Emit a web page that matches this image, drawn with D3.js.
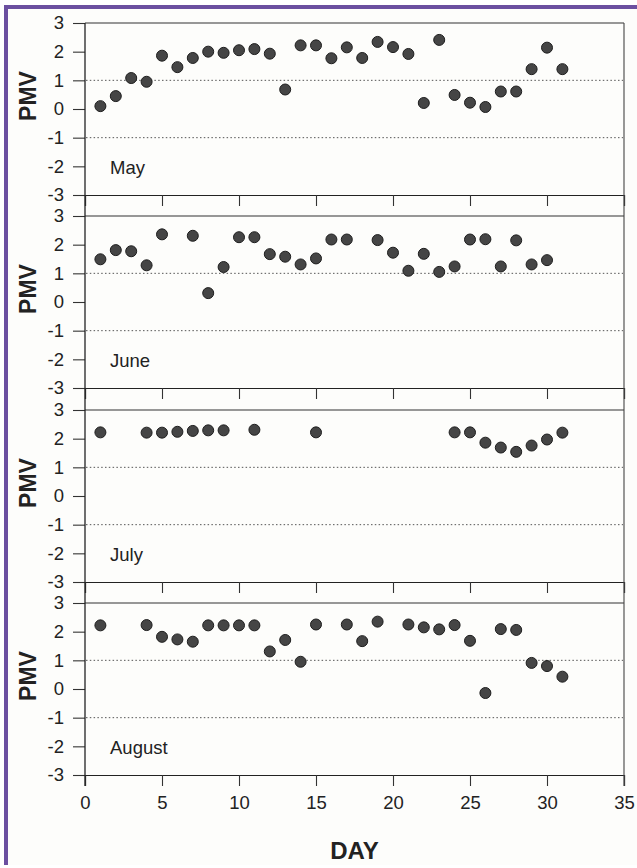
<!DOCTYPE html>
<html>
<head>
<meta charset="utf-8">
<script src="https://cdn.jsdelivr.net/npm/d3@7"></script>
<style>
  html, body { margin: 0; padding: 0; background: #ffffff; }
  svg { display: block; }
  text { font-family: "Liberation Sans", Arial, sans-serif; fill: #222; }
</style>
</head>
<body>
<svg id="chart" width="637" height="868"></svg>
<script>
// ---- data ----
const months = ["May", "June", "July", "August"];
const yTicks = [-3, -2, -1, 0, 1, 2, 3];
const xTicks = [0, 5, 10, 15, 20, 25, 30, 35];
const refLines = [1, -1];

const mayDays = [1,2,3,4,5,6,7,8,9,10,11,12,13,14,15,16,17,18,19,20,21,22,23,24,25,26,27,28,29,30,31];
const mayPMV  = [0.10,0.45,1.08,0.95,1.86,1.46,1.78,2.00,1.96,2.05,2.09,1.93,0.68,2.22,2.22,1.77,2.15,1.78,2.34,2.16,1.92,0.21,2.41,0.49,0.22,0.07,0.61,0.61,1.39,2.14,1.39];

const juneDays = [1,2,3,4,5,7,8,9,10,11,12,13,14,15,16,17,19,20,21,22,23,24,25,26,27,28,29,30];
const junePMV  = [1.49,1.81,1.77,1.28,2.36,2.31,0.31,1.22,2.26,2.26,1.67,1.58,1.31,1.52,2.18,2.18,2.16,1.72,1.09,1.68,1.05,1.24,2.18,2.19,1.24,2.15,1.31,1.46];

const julyDays = [1,4,5,6,7,8,9,11,15,24,25,26,27,28,29,30,31];
const julyPMV  = [2.22,2.21,2.21,2.24,2.27,2.29,2.29,2.31,2.22,2.22,2.22,1.86,1.69,1.54,1.76,1.97,2.21];

const augDays = [1,4,5,6,7,8,9,10,11,12,13,14,15,17,18,19,21,22,23,24,25,26,27,28,29,30,31];
const augPMV  = [2.22,2.23,1.82,1.73,1.65,2.22,2.22,2.22,2.22,1.31,1.71,0.95,2.25,2.25,1.67,2.35,2.25,2.15,2.08,2.23,1.68,-0.14,2.09,2.06,0.91,0.80,0.43];

const series = [
  {name: months[0], days: mayDays, vals: mayPMV},
  {name: months[1], days: juneDays, vals: junePMV},
  {name: months[2], days: julyDays, vals: julyPMV},
  {name: months[3], days: augDays, vals: augPMV}
];

// ---- layout ----
const svg = d3.select("#chart");
const left = 85, right = 624;
const panelTops = [23, 216, 410, 603];
const panelH = 172;
const x = d3.scaleLinear().domain([0, 35]).range([left, right]);
const fmt = d => String(d);   // plain hyphen-minus like the reference

// page border (purple)
svg.append("rect").attr("x", 4).attr("y", 5).attr("width", 640).attr("height", 4).attr("fill", "#6b4fa0");
svg.append("rect").attr("x", 4).attr("y", 5).attr("width", 4).attr("height", 860).attr("fill", "#6b4fa0");
svg.append("rect").attr("x", 8).attr("y", 9).attr("width", 632).attr("height", 856).attr("fill", "#fdfdfb");

series.forEach((s, i) => {
  const top = panelTops[i];
  const y = d3.scaleLinear().domain([-3, 3]).range([top + panelH, top]);
  const g = svg.append("g");

  // y axis
  const ya = g.append("g").attr("transform", `translate(${left},0)`)
    .call(d3.axisLeft(y).tickValues(yTicks).tickSize(12).tickPadding(9).tickFormat(fmt));
  ya.select(".domain").remove();
  ya.selectAll("line").attr("stroke", "#333").attr("stroke-width", 1.1);
  ya.selectAll("text").attr("font-size", 18.5).attr("fill", "#222")
    .style("font-family", '"Liberation Sans", Arial, sans-serif');

  // x axis at bottom of each panel
  const xa = g.append("g").attr("transform", `translate(0,${top + panelH})`)
    .call(d3.axisBottom(x).tickValues(xTicks).tickSize(11).tickPadding(10)
      .tickFormat(i === 3 ? fmt : () => ""));
  xa.select(".domain").attr("stroke", "#222").attr("stroke-width", 1.2);
  xa.selectAll("line").attr("stroke", "#333").attr("stroke-width", 1.1);
  xa.selectAll("text").attr("font-size", 18.5).attr("fill", "#222")
    .style("font-family", '"Liberation Sans", Arial, sans-serif');

  // top frame
  g.append("line").attr("x1", left).attr("x2", right).attr("y1", top).attr("y2", top)
    .attr("stroke", "#333").attr("stroke-width", 1.1);

  // reference dotted lines
  g.selectAll(".ref").data(refLines).enter().append("line")
    .attr("x1", left + 1).attr("x2", right - 1)
    .attr("y1", d => y(d)).attr("y2", d => y(d))
    .attr("stroke", "#555").attr("stroke-width", 1)
    .attr("stroke-dasharray", "1.5,2.3");

  // dots
  const pts = s.days.map((d, k) => ({d, v: s.vals[k]}));
  g.selectAll("circle").data(pts).enter().append("circle")
    .attr("cx", p => x(p.d)).attr("cy", p => y(p.v)).attr("r", 5.5)
    .attr("fill", "#454545").attr("stroke", "#1e1e1e").attr("stroke-width", 1);

  // month label
  g.append("text").attr("x", 110).attr("y", top + panelH - 21)
    .attr("font-size", 18.5).text(s.name);

  // PMV label
  g.append("text")
    .attr("transform", `translate(36,${top + panelH / 2 - 13}) rotate(-90)`)
    .attr("text-anchor", "middle").attr("font-size", 23).attr("font-weight", "bold")
    .text("PMV");
});

// continuous left and right frame lines
svg.append("line").attr("x1", left).attr("x2", left).attr("y1", panelTops[0]).attr("y2", panelTops[3] + panelH + 11)
  .attr("stroke", "#222").attr("stroke-width", 1.3);
svg.append("line").attr("x1", right).attr("x2", right).attr("y1", panelTops[0]).attr("y2", panelTops[3] + panelH + 11)
  .attr("stroke", "#444").attr("stroke-width", 1.1);

// x axis title
svg.append("text").attr("x", (left + right) / 2).attr("y", 859)
  .attr("text-anchor", "middle").attr("font-size", 24).attr("font-weight", "bold").text("DAY");
</script>
</body>
</html>
